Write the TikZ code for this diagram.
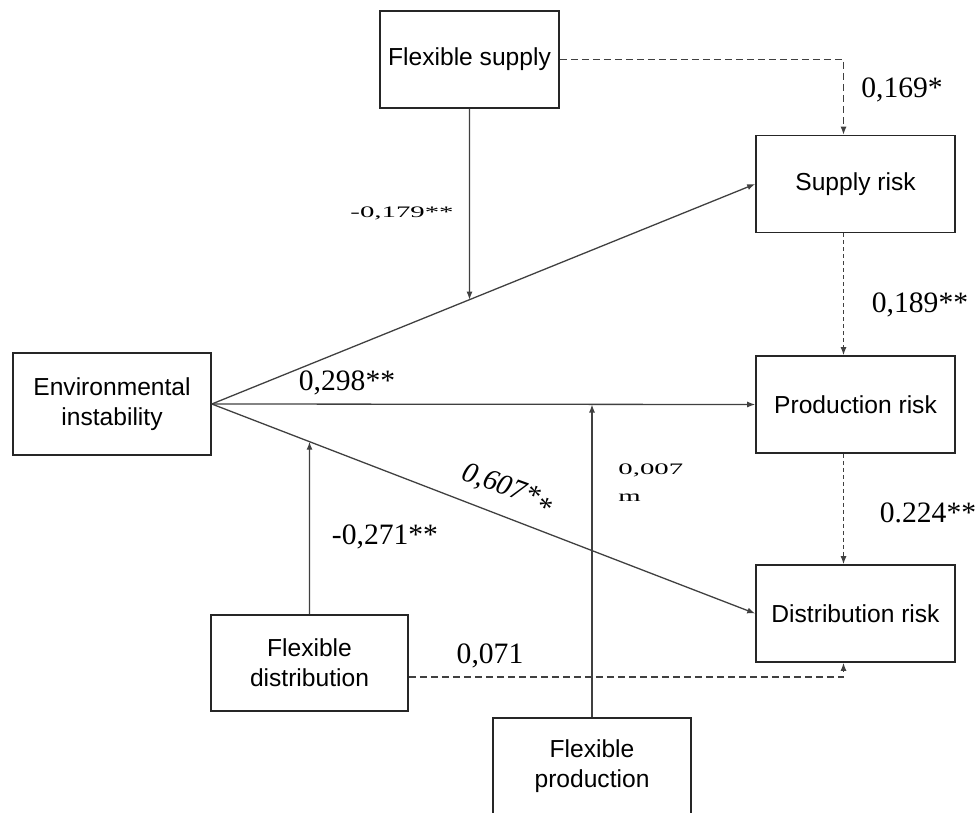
\documentclass[tikz,border=0pt]{standalone}
\usepackage{fontspec}
\usepackage{graphicx}
\setmainfont{Liberation Sans}
\newfontfamily\numfont{Liberation Serif}
\usetikzlibrary{arrows.meta}

\tikzset{
	box/.style={draw=black!85, line width=0.8pt, inner sep=0pt, align=center,
		minimum width=99.5pt, minimum height=48.5pt,
		font=\fontsize{12.3}{15}\selectfont},
	link/.style={draw=black!75, line width=0.65pt, -{Latex[length=4pt,width=3pt]}},
	dlink/.style={link, dash pattern=on 3.5pt off 2pt},
	dotlink/.style={link, dash pattern=on 2pt off 1.5pt},
	coef/.style={inner sep=0pt, font=\numfont\fontsize{14.8}{17}\selectfont},
	small/.style={inner sep=0pt, align=left, font=\numfont\fontsize{8}{13.5}\selectfont}
}

\begin{document}
\begin{tikzpicture}[x=0.5pt,y=-0.5pt]

\useasboundingbox (0,0) rectangle (977,812);

\node [box, minimum height=51pt, minimum width=99pt] (envi) at (112,404) {Environmental\\instability};
\node [box, minimum width=89.5pt] (fsup) at (469.5,59.5) {Flexible supply};
\node [box] (srisk) at (855.5,184) {Supply risk};
\node [box] (prisk) at (855.5,404.5) {Production risk};
\node [box] (drisk) at (855.5,613.5) {Distribution risk};
\node [box, minimum width=98.5pt, minimum height=48pt] (fdist) at (309.5,663) {Flexible\\distribution};
\node [box, minimum width=99pt, minimum height=48pt] (fprod) at (592,766) {Flexible\\production};

\foreach \r in {srisk,prisk,drisk} {
	\draw [link] (envi.east) -- (\r.west);
}

\draw [link] (fsup.south) -- (intersection of envi.east--srisk.west and fsup.south--fsup.north);
\draw [link] (fdist.north) -- (intersection of envi.east--drisk.west and fdist.south--fdist.north);
\draw [link] (fprod.north) -- (fprod.north |- prisk.west);

\draw [dlink] (fsup.east) -| ([xshift=-6pt]srisk.north);
\draw [dlink] ([yshift=-7pt]fdist.east) -| ([xshift=-6pt]drisk.south);

\foreach \a/\b in {srisk/prisk,prisk/drisk} {
	\draw [dotlink] ([xshift=-6pt]\a.south) -- ([xshift=-6pt]\b.north);
}

\node [coef] (c169) at (902,90) {0,169*};
\node [coef] (c189) at (920,305) {0,189**};
\node [coef] (c224) at (928,513) {0.224**};
\node [coef] (c298) at (347,383) {0,298**};
\node [coef] (c271) at (385,537) {-0,271**};
\node [coef] (c071) at (490,656) {0,071};
\node [coef, rotate=-20, font=\numfont\itshape\fontsize{14.5}{17}\selectfont] (c607) at (507,490) {0,607*\raisebox{-0.6ex}{*}};

\node [small] (c179) at (402,213) {\scalebox{1.8}[1]{-0,179**}};
\node [small, anchor=north west] (c007) at (618,463) {\scalebox{1.8}[1]{0,007}\\\scalebox{1.8}[1]{m}};

\end{tikzpicture}
\end{document}
